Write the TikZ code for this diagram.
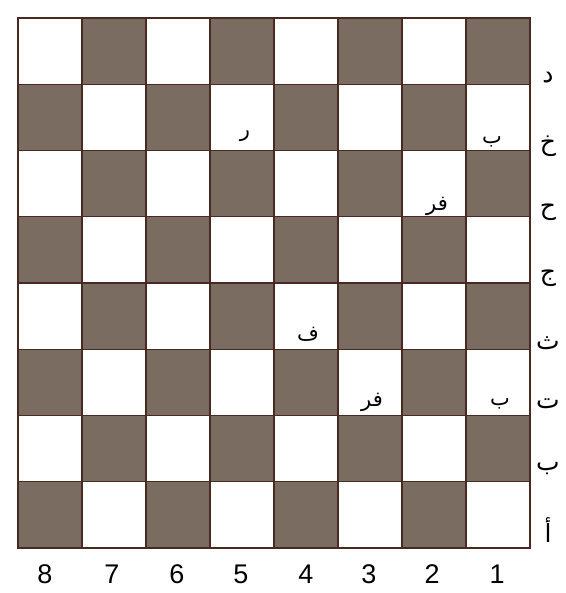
\documentclass[tikz,border=0pt]{standalone}
\usepackage{fontspec}
\setmainfont{Liberation Sans}
\newfontfamily\arabicfont[Script=Arabic]{DejaVu Sans}
\TeXXeTstate=1
\definecolor{darksq}{RGB}{122,108,96}
\definecolor{sqedge}{RGB}{72,42,34}
\tikzset{
  sqbox/.style={draw=sqedge, line width=1.3pt},
  rowlab/.style={font=\arabicfont\fontsize{25}{29}\selectfont, inner sep=0pt},
  piecelab/.style={font=\arabicfont\fontsize{21}{24}\selectfont, inner sep=0pt},
  collab/.style={font=\fontsize{27}{30}\selectfont, inner sep=0pt}
}
\begin{document}
\begin{tikzpicture}[x=1pt,y=-1pt]
\useasboundingbox (0,0) rectangle (565,593);
\fill[white] (0,0) rectangle (565,593);
% board
\foreach \r in {0,...,7}{
  \foreach \c in {0,...,7}{
    \pgfmathtruncatemacro\p{mod(\r+\c,2)}
    \ifodd\p
      \draw[sqbox, fill=darksq] (18+64*\c, 18+66.25*\r) rectangle ++(64,66.25);
    \else
      \draw[sqbox, fill=white] (18+64*\c, 18+66.25*\r) rectangle ++(64,66.25);
    \fi
  }
}
% row labels (right side)
\node[rowlab] (rd)  at (548, 78)  {د};
\node[rowlab] (rkh) at (548, 146) {خ};
\node[rowlab] (rh)  at (548, 212) {ح};
\node[rowlab] (rj)  at (548, 278) {ج};
\node[rowlab] (rth) at (548, 343) {ث};
\node[rowlab] (rt)  at (548, 404) {ت};
\node[rowlab] (rb)  at (548, 469) {ب};
\node[rowlab] (ra)  at (548, 530) {أ};
% pieces
\node[piecelab] (p1) at (245, 136) {ر};
\node[piecelab] (p2) at (492, 142) {ب};
\node[piecelab] (p3) at (437, 206) {\beginR فر\endR};
\node[piecelab] (p4) at (308, 334) {ف};
\node[piecelab] (p5) at (372, 402) {\beginR فر\endR};
\node[piecelab] (p6) at (500, 404) {ب};
% column numbers
\node[collab] (n8) at (45, 574) {8};
\node[collab] (n7) at (112, 574) {7};
\node[collab] (n6) at (177, 574) {6};
\node[collab] (n5) at (241, 574) {5};
\node[collab] (n4) at (306, 574) {4};
\node[collab] (n3) at (369, 574) {3};
\node[collab] (n2) at (432, 574) {2};
\node[collab] (n1) at (497, 574) {1};
\end{tikzpicture}
\end{document}
